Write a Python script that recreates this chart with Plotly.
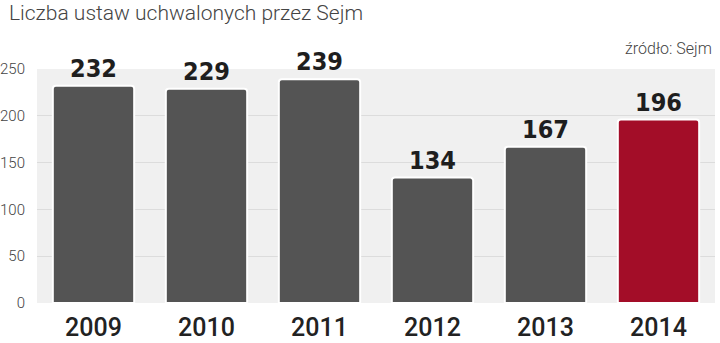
import plotly.graph_objects as go

years = ["2009", "2010", "2011", "2012", "2013", "2014"]
values = [232, 229, 239, 134, 167, 196]
colors = ["#545454", "#545454", "#545454", "#545454", "#545454", "#a30d28"]
y_ticks = [0, 50, 100, 150, 200, 250]

fig = go.Figure()
fig.add_trace(go.Bar(
    x=years, y=values,
    marker=dict(color=colors, line=dict(color="white", width=2), cornerradius=3),
    text=[str(v) for v in values],
    textposition="outside",
    textfont=dict(family="DejaVu Sans Condensed", size=25, color="#1e1e1e", weight="bold"),
    cliponaxis=False,
    width=0.72,
))

fig.update_layout(
    width=720, height=343,
    margin=dict(l=37, r=5, t=69, b=40, autoexpand=False),
    paper_bgcolor="white",
    plot_bgcolor="#f0f0f0",
    showlegend=False,
    font=dict(family="Roboto", color="#444"),
    xaxis=dict(
        automargin=False,
        tickfont=dict(family="Roboto", size=25, color="#222", weight=500),
        showgrid=False, zeroline=False, showline=False,
        ticks="outside", ticklen=2, tickcolor="rgba(0,0,0,0)",
    ),
    yaxis=dict(
        automargin=False,
        range=[0, 250], tickvals=y_ticks,
        tickfont=dict(family="Roboto", size=15, color="#444", weight=300),
        gridcolor="#dcdcdc", gridwidth=1, zeroline=False, showline=False,
        ticks="outside", ticklen=8, tickcolor="rgba(0,0,0,0)",
    ),
    annotations=[
        dict(text="Liczba ustaw uchwalonych przez Sejm", x=0, xref="paper", xanchor="left",
             xshift=-30, y=1, yref="paper", yanchor="middle", yshift=56,
             showarrow=False, font=dict(family="Roboto", size=21, color="#444", weight=300)),
        dict(text="źródło: Sejm", x=1, xref="paper", xanchor="right", xshift=-1,
             y=1, yref="paper", yanchor="middle", yshift=21,
             showarrow=False, font=dict(family="Roboto", size=16, color="#444", weight=300)),
    ],
)

fig.write_html("out.html")
